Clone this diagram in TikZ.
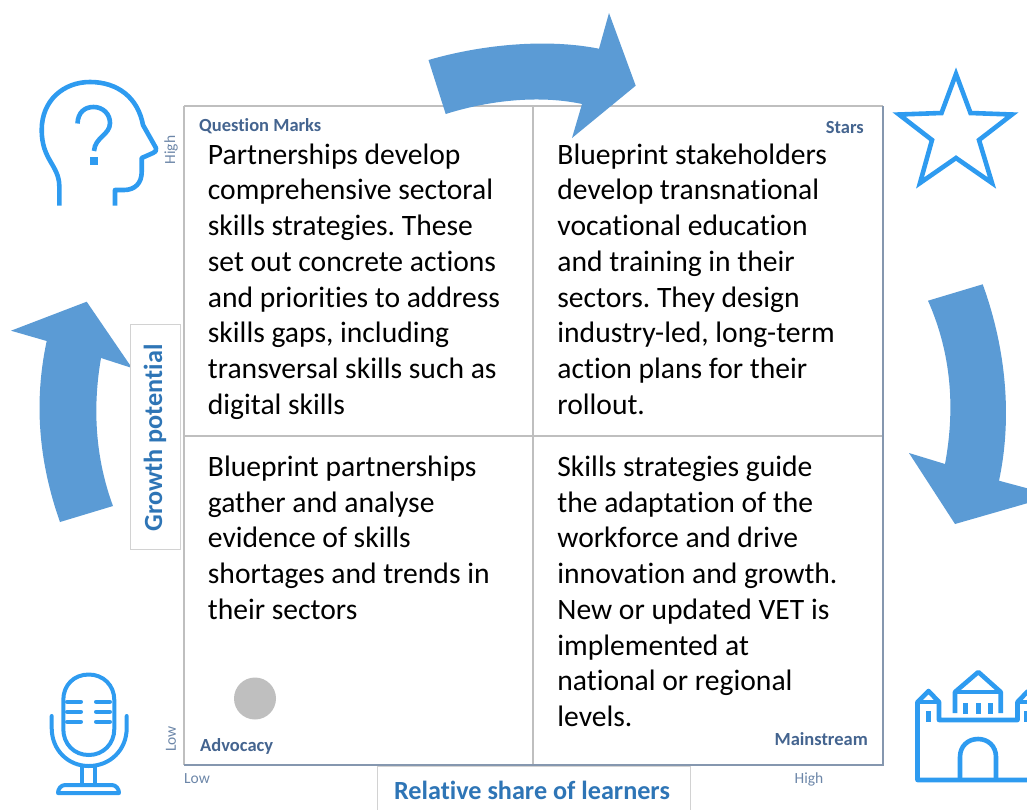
\documentclass[tikz,border=0pt]{standalone}
\usepackage{fontspec}
\setmainfont[Ligatures=NoCommon]{Carlito}
\definecolor{arrowblue}{HTML}{5B9BD5}
\definecolor{iconblue}{HTML}{2E9BF0}
\definecolor{gridgray}{HTML}{BFBFBF}
\definecolor{labelblue}{HTML}{44648F}
\definecolor{lowblue}{HTML}{6C86A8}
\definecolor{axisblue}{HTML}{2E75B6}
\tikzset{
  bigarrow/.style={fill=arrowblue,draw=none},
  icon/.style={draw=iconblue,line width=4.6pt,line join=miter,fill=none},
  iconthin/.style={draw=iconblue,line width=4pt,line cap=round,line join=round,fill=none},
  castle/.style={draw=iconblue,line width=4.6pt,line cap=butt,line join=round,fill=none},
  gridline/.style={draw=gridgray,line width=1.3pt},
  body/.style={anchor=north west,inner sep=0pt,text width=335pt,align=flush left,font=\frenchspacing\fontsize{29.6}{35.75}\selectfont,text=black},
  quadlabel/.style={inner sep=0pt,font=\fontsize{18.5}{22}\selectfont\bfseries,text=labelblue},
  scalelabel/.style={inner sep=0pt,font=\fontsize{15.5}{18}\selectfont,text=lowblue},
  axisbox/.style={draw=gridgray!70,line width=0.8pt,fill=white,inner sep=0pt},
  axislabel/.style={inner sep=0pt,font=\fontsize{26.2}{30}\selectfont\bfseries,text=axisblue}
}
\begin{document}
\begin{tikzpicture}[x=1pt,y=-1pt]
\useasboundingbox (0,0) rectangle (1027,809);
% grid
\coordinate (gTL) at (184,106); \coordinate (gTM) at (533,106); \coordinate (gTR) at (883,106);
\coordinate (gML) at (184,436); \coordinate (gMR) at (883,436);
\coordinate (gBL) at (184,765); \coordinate (gBM) at (533,765); \coordinate (gBR) at (883,765);
\draw[gridline] (gTL) -- (gTR);
\draw[gridline] (gTL) -- (gBL);
\draw[gridline] (gTM) -- (gBM);
\draw[gridline] (gML) -- (gMR);
\draw[line width=1.3pt,draw=lowblue!70!gridgray] (gBL) -- (gBR) -- (gTR);
% arrows
\fill[bigarrow] (428.5,60) .. controls (480,45) and (545,38) .. (599,48.7) -- (609,13) -- (635.7,85.7) -- (572,138) -- (582,104) .. controls (540,95) and (490,100) .. (445.7,114) -- cycle;
\fill[bigarrow] (982.7,284.3) .. controls (1003,340) and (1014,410) .. (999,480.7) -- (1028,488.5) -- (1028,503) -- (955,524) -- (909,453) -- (945,464) .. controls (955,410) and (952,355) .. (928,300.7) -- cycle;
\fill[bigarrow] (60,522) .. controls (38,460) and (34,400) .. (46.7,341) -- (11,330.7) -- (86.7,301.7) -- (132,368) -- (101,358) .. controls (92,410) and (96,460) .. (113,506) -- cycle;
% axis boxes
\node[axisbox,minimum width=50pt,minimum height=225pt] (gbox) at (155,436.5) {};
\node[axislabel,rotate=90] (gtext) at (155,438) {Growth potential};
\node[axisbox,minimum width=313pt,minimum height=60pt] (rbox) at (533.5,796) {};
\node[axislabel,anchor=base] (rtext) at (532,799) {Relative share of learners};
% body text
\node[body] (q1) at (207.7,143.4) {Partnerships develop\\comprehensive sectoral\\skills strategies. These\\set out concrete actions\\and priorities to address\\skills gaps, including\\transversal skills such as\\digital skills};
\node[body] (q2) at (557.2,143.4) {Blueprint stakeholders\\develop transnational\\vocational education\\and training in their\\sectors. They design\\industry-led, long-term\\action plans for their\\rollout.};
\node[body] (q3) at (207.7,455.5) {Blueprint partnerships\\gather and analyse\\evidence of skills\\shortages and trends in\\their sectors};
\node[body] (q4) at (557.2,455.5) {Skills strategies guide\\the adaptation of the\\workforce and drive\\innovation and growth.\\New or updated VET is\\implemented at\\national or regional\\levels.};
% quadrant labels
\node[quadlabel,anchor=base west] (lq) at (199,131.7) {Question Marks};
\node[quadlabel,anchor=base east] (ls) at (864,133.7) {Stars};
\node[quadlabel,anchor=base west] (la) at (200,751.7) {Advocacy};
\node[quadlabel,anchor=base east] (lm) at (868,745.7) {Mainstream};
% scale labels
\node[scalelabel,rotate=90] (hy) at (171,150) {High};
\node[scalelabel,rotate=90] (ly) at (171,739) {Low};
\node[scalelabel,anchor=base west] (lx) at (184,783) {Low};
\node[scalelabel,anchor=base] (hx) at (809,783) {High};
% circle
\node[circle,fill=gridgray,draw=none,minimum size=42pt,inner sep=0pt] (dot) at (255,698.5) {};
% head icon
\draw[icon,line join=round] (59.3,205.7) -- (59.3,186) .. controls (59,165) and (41.7,160) .. (41.7,130) .. controls (41.7,100) and (64,82) .. (90,82) .. controls (118,82) and (138,98) .. (143,125) -- (156,148) .. controls (157,151) and (155,152) .. (153,153) -- (141.7,158) -- (141.7,172) .. controls (141.7,183) and (135,190) .. (124,190) -- (115,190) -- (115,205.7);
\draw[icon] (77.5,123.5) .. controls (78,112) and (85,107) .. (93.5,107) .. controls (103,107) and (110,114) .. (110,123) .. controls (110,135) and (95,137) .. (94,151);
\fill[iconblue] (90,157) rectangle (97.5,165);
% star
\draw[icon] (956,74) -- (970.5,113) -- (1012,114.5) -- (979,140) -- (992,183) -- (956,158) -- (920,183) -- (932,140) -- (899,114.5) -- (941.5,113) -- cycle;
% microphone
\draw[iconthin] (88.8,674.5) .. controls (103,674.5) and (114.3,685) .. (114.3,700) -- (114.3,729) .. controls (114.3,744) and (103,755) .. (88.8,755) .. controls (74,755) and (63.3,744) .. (63.3,729) -- (63.3,700) .. controls (63.3,685) and (74,674.5) .. (88.8,674.5) -- cycle;
\foreach \yy in {701.7,711.7,721.7}{
  \draw[iconthin] (67,\yy) -- (81,\yy);
  \draw[iconthin] (96,\yy) -- (110,\yy);
}
\draw[iconthin] (51.7,716) -- (51.7,728) .. controls (51.7,750) and (68,766) .. (88.8,766) .. controls (110,766) and (126.7,750) .. (126.7,728) -- (126.7,716);
\draw[iconthin] (82.3,766) -- (82.3,785);
\draw[iconthin] (95,766) -- (95,785);
\draw[iconthin] (65,785) -- (112,785) .. controls (116,785) and (119,789) .. (119,793) -- (58,793) .. controls (58,789) and (61,785) .. (65,785) -- cycle;
% castle
\draw[castle] (1029,780) -- (917.5,780) -- (917.5,702) -- (928.5,691) -- (939,702) -- (939,720) -- (1017.5,720) -- (1017.5,702) -- (1028,691);
\draw[castle] (917.5,702) -- (939,702);
\draw[castle] (1017.5,702) -- (1029,702);
\draw[castle] (928.5,711) -- (928.5,722);
\draw[castle] (1026.5,711) -- (1026.5,722);
\draw[castle] (955,713) -- (955,692) -- (978.3,672) -- (1000.7,692) -- (1000.7,713);
\draw[castle] (955,692) -- (1000.7,692);
\foreach \xx in {965.7,978.3,990.7}{
  \draw[castle] (\xx,703) -- (\xx,714);
}
\draw[castle] (960,780) -- (960,757) .. controls (960,746) and (968,739) .. (978,739) .. controls (988,739) and (996,746) .. (996,757) -- (996,780);
\end{tikzpicture}
\end{document}
